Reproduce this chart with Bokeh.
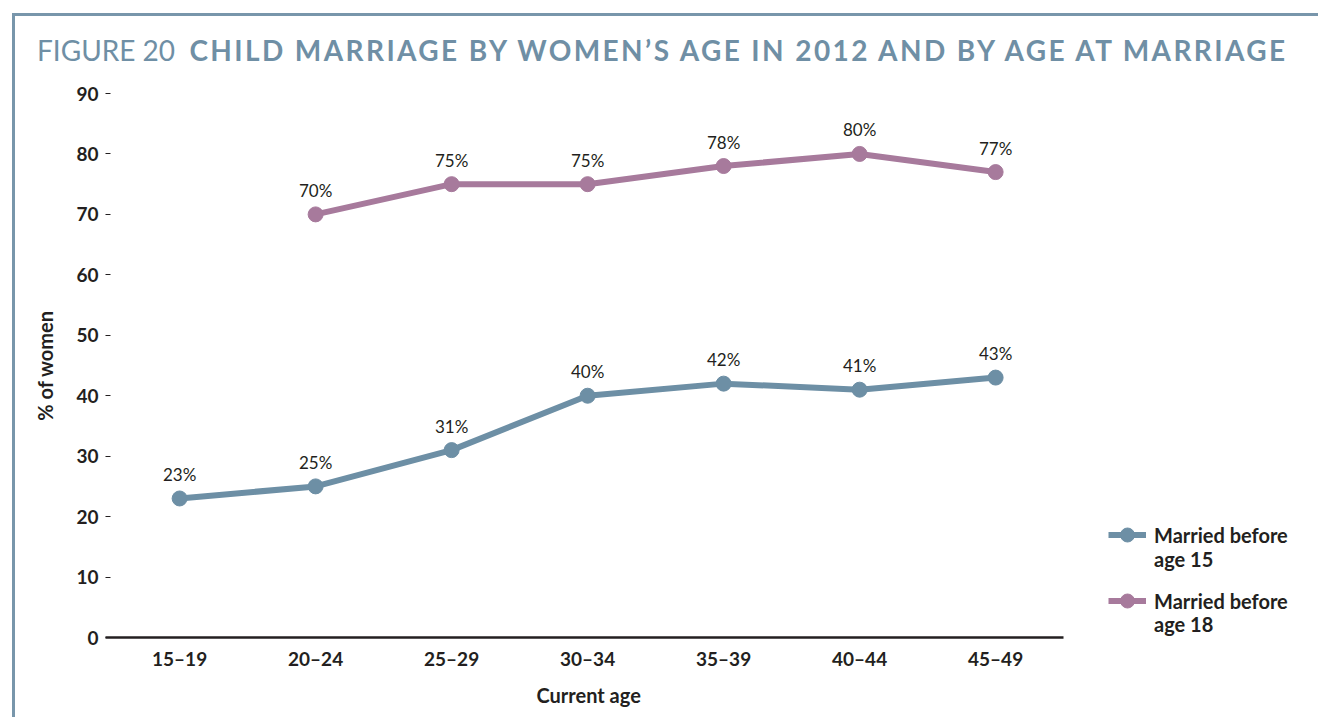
from bokeh.plotting import figure
from bokeh.layouts import column
from bokeh.models import (Range1d, FixedTicker, Legend, LegendItem, Div, Title,
                          ColumnDataSource)
from bokeh.core.properties import value
from bokeh.embed import file_html
from bokeh.resources import INLINE

# ---- data ----
age_groups = ["15–19", "20–24", "25–29", "30–34", "35–39", "40–44", "45–49"]
before15 = [23, 25, 31, 40, 42, 41, 43]
before18_groups = ["20–24", "25–29", "30–34", "35–39", "40–44", "45–49"]
before18 = [70, 75, 75, 78, 80, 77]
y_ticks = [0, 10, 20, 30, 40, 50, 60, 70, 80, 90]
legend_line1 = ["Married before", "Married before"]
legend_line2 = ["age 15", "age 18"]
x_title = "Current age"
y_title = "% of women"
title_prefix = "FIGURE 20"
title_main = "CHILD MARRIAGE BY WOMEN’S AGE IN 2012 AND BY AGE AT MARRIAGE"

BLUE = "#6d8fa5"
PINK = "#a77a9c"
DARK = "#231f20"
TITLE_C = "#6f8fa5"
RULE_C = "#7896ab"
FONT = "Lato"

idx15 = [age_groups.index(g) for g in age_groups]
idx18 = [age_groups.index(g) for g in before18_groups]

src15 = ColumnDataSource(dict(x=idx15, y=before15, lab=[f"{v}%" for v in before15]))
src18 = ColumnDataSource(dict(x=idx18, y=before18, lab=[f"{v}%" for v in before18]))

W, H = 1303, 641
BL, BR = 90, 5
PX_PER_CAT = 136
x_start = -0.545
x_end = x_start + (W - BL - BR) / PX_PER_CAT

p = figure(width=W, height=H, output_backend="svg", toolbar_location=None,
           x_range=Range1d(x_start, x_end),
           y_range=Range1d(0, 90),
           min_border_left=BL, min_border_right=BR,
           min_border_top=17, min_border_bottom=80)
p.outline_line_color = None
p.grid.grid_line_color = None

# x axis (line limited to the category span)
xa = p.xaxis[0]
xa.bounds = (x_start, len(age_groups) - 0.5)
xa.ticker = FixedTicker(ticks=list(range(len(age_groups))))
xa.major_label_overrides = {i: g for i, g in enumerate(age_groups)}
xa.major_tick_line_color = None
xa.minor_tick_line_color = None
xa.axis_line_color = DARK
xa.axis_line_width = 2.5
xa.major_label_text_font = FONT
xa.major_label_text_font_style = "bold"
xa.major_label_text_font_size = "19px"
xa.major_label_text_color = DARK
xa.major_label_standoff = 3

# x axis title, centred under the bounded axis
p.add_layout(Title(text=x_title, align="left", offset=431, standoff=16,
                   text_font=FONT, text_font_style="bold",
                   text_font_size="20px", text_color=DARK), "below")

# y axis
ya = p.yaxis[0]
ya.ticker = FixedTicker(ticks=y_ticks)
ya.axis_line_color = None
ya.major_tick_in = 5
ya.major_tick_out = 0
ya.major_tick_line_color = DARK
ya.minor_tick_line_color = None
ya.major_label_text_font = FONT
ya.major_label_text_font_style = "bold"
ya.major_label_text_font_size = "19px"
ya.major_label_text_color = DARK
ya.major_label_standoff = 7
ya.axis_label = y_title
ya.axis_label_text_font = FONT
ya.axis_label_text_font_style = "bold"
ya.axis_label_text_font_size = "20px"
ya.axis_label_text_color = DARK
ya.axis_label_standoff = 16

# series
l15 = p.line("x", "y", source=src15, line_color=BLUE, line_width=6)
c15 = p.scatter("x", "y", source=src15, size=15, fill_color=BLUE, line_color=BLUE)
l18 = p.line("x", "y", source=src18, line_color=PINK, line_width=6)
c18 = p.scatter("x", "y", source=src18, size=15, fill_color=PINK, line_color=PINK)

for s in (src15, src18):
    p.text("x", "y", text="lab", source=s, text_align="center",
           text_baseline="middle", y_offset=-24,
           text_font=value(FONT), text_font_size="17px", text_color=DARK)

# blank swatch for the second legend lines
blank = p.scatter(x=[], y=[], size=1, fill_alpha=0, line_alpha=0)


def style_legend(lg, glyph_h, spacing):
    lg.label_text_font = FONT
    lg.label_text_font_style = "bold"
    lg.label_text_font_size = "20px"
    lg.label_text_color = DARK
    lg.border_line_color = None
    lg.background_fill_alpha = 0
    lg.glyph_width = 38
    lg.glyph_height = glyph_h
    lg.label_height = 20
    lg.label_standoff = 8
    lg.spacing = spacing
    lg.padding = 0
    lg.margin = 0


legend_a = Legend(items=[
    LegendItem(label=legend_line1[0], renderers=[l15, c15]),
    LegendItem(label=legend_line1[1], renderers=[l18, c18]),
], location=(1003, 19))
style_legend(legend_a, 35, 31)
legend_b = Legend(items=[
    LegendItem(label=legend_line2[0], renderers=[blank]),
    LegendItem(label=legend_line2[1], renderers=[blank]),
], location=(1003, 1))
style_legend(legend_b, 24, 41)
p.add_layout(legend_a)
p.add_layout(legend_b)

title = Div(
    text=(f'<div style="font-family:{FONT}; font-size:28px; color:{TITLE_C}; '
          f'padding-left:22px; padding-top:16px; line-height:36px; white-space:nowrap;">'
          f'{title_prefix}&nbsp; <b style="letter-spacing:2.4px;">{title_main}</b></div>'),
    width=W, height=60, margin=0)

layout = column(title, p, spacing=0,
                styles={"margin-left": "12px", "margin-top": "13px",
                        "border-left": f"3px solid {RULE_C}",
                        "border-top": f"3px solid {RULE_C}"})

open("out.html", "w").write(file_html(layout, INLINE))
